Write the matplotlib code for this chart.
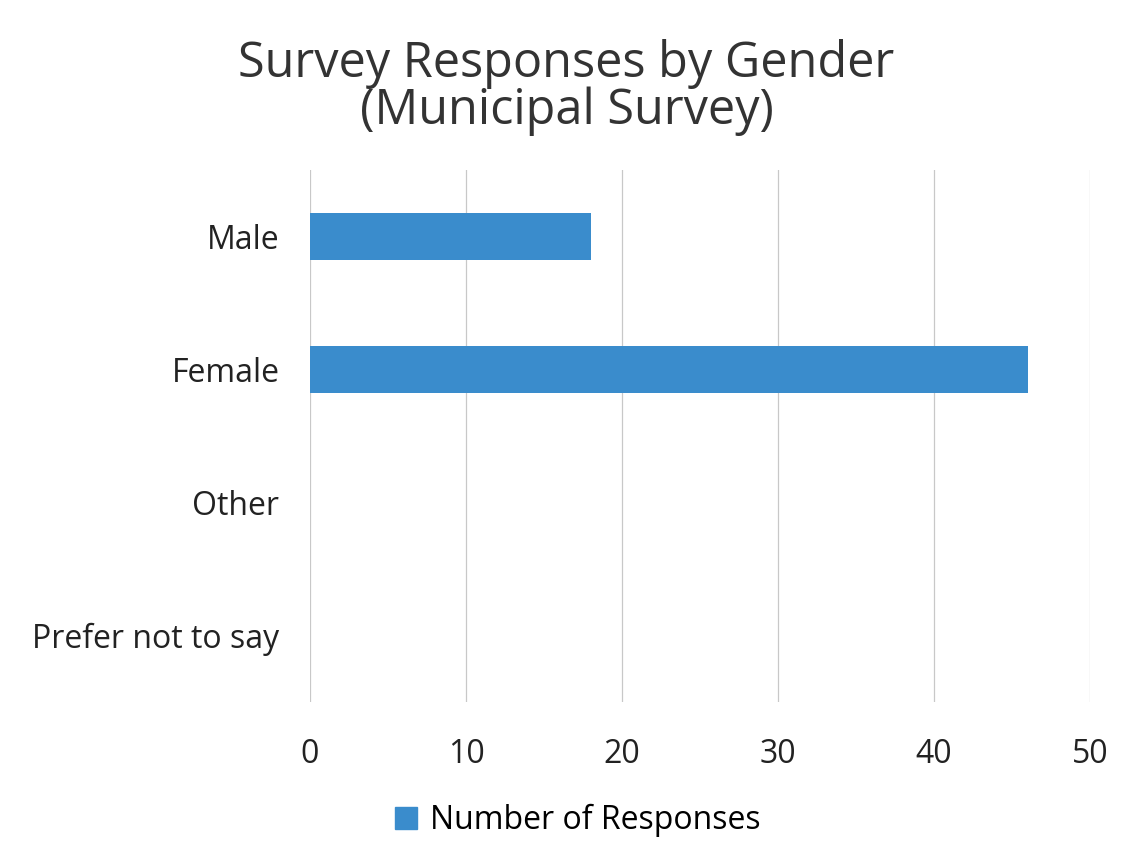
import matplotlib.pyplot as plt
from matplotlib.patches import Patch

categories = ["Male", "Female", "Other", "Prefer not to say"]
responses = [18, 46, 0, 0]
x_ticks = [0, 10, 20, 30, 40, 50]

plt.rcParams['font.family'] = ['Open Sans', 'DejaVu Sans']
bar_color = "#3a8ccc"

fig = plt.figure(figsize=(11.33, 8.61), dpi=100)
ax = fig.add_axes([310 / 1133, 1 - 702 / 861, 780 / 1133, 532 / 861])

ypos = range(len(categories))
ax.barh(ypos, responses, height=0.36, color=bar_color)
ax.set_yticks(list(ypos))
ax.set_yticklabels(categories)
ax.set_ylim(len(categories) - 0.5, -0.5)
ax.set_xlim(0, 50)
ax.set_xticks(x_ticks)

ax.grid(axis="x", color="#c8c8c8", linewidth=0.9)
ax.set_axisbelow(True)
for s in ax.spines.values():
    s.set_visible(False)
ax.tick_params(axis="both", length=0, labelsize=23, colors="#222222")
ax.tick_params(axis="y", pad=22)
ax.tick_params(axis="x", pad=26)

fig.suptitle("Survey Responses by Gender\n(Municipal Survey)", y=0.955,
             fontsize=35, color="#333333", linespacing=0.95)

fig.legend(handles=[Patch(color=bar_color, label="Number of Responses")],
           loc="center", bbox_to_anchor=(0.51, 0.047), frameon=False,
           fontsize=23, handlelength=0.7, handleheight=0.7, handletextpad=0.4)

fig.savefig("out.png", dpi=100)
